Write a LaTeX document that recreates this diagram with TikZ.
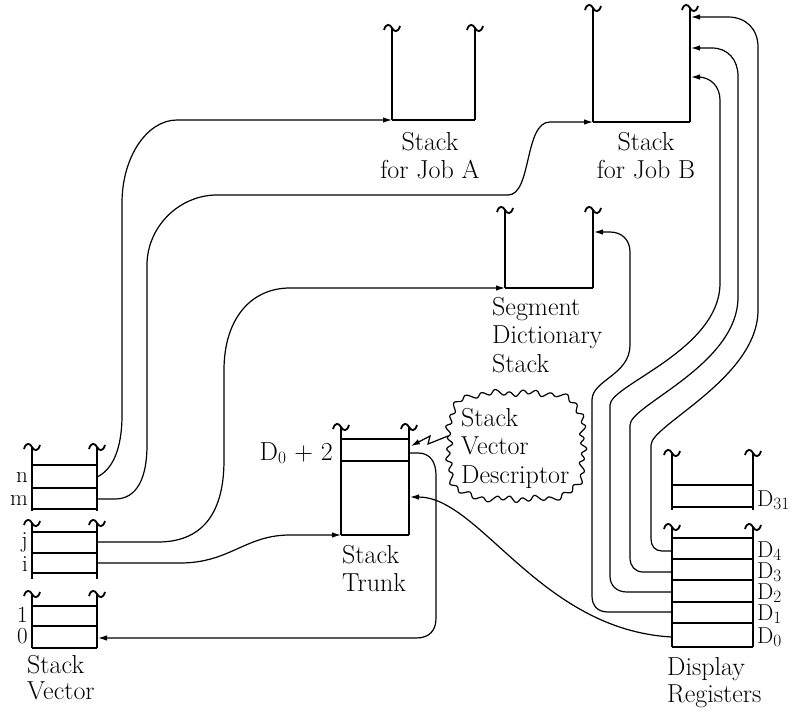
\documentclass[tikz,border=0pt]{standalone}
\usepackage{amsmath}
\usepackage{tikz}
\usetikzlibrary{arrows.meta, positioning}

\tikzset{
  frame/.style={line width=2.2pt},
  link/.style={line width=1.2pt},
  tip/.style={-{Latex[length=9pt,width=5.5pt]}},
  lbl/.style={inner sep=0pt, align=left, font=\fontsize{26}{28.5}\selectfont},
  reglbl/.style={inner sep=0pt, font=\fontsize{23}{24}\selectfont},
  cloudline/.style={line width=1.2pt}
}

% squiggle on top of a post
\newcommand{\tld}[2]{%
  \draw[frame, line width=1.8pt] (#1-8,#2+2) .. controls (#1-6,#2-5) and (#1-2,#2-4) .. (#1,#2)
    .. controls (#1+2,#2+4) and (#1+6,#2+5) .. (#1+8,#2-2);}
% two posts: left x, right x, top y, bottom y
\newcommand{\stk}[4]{%
  \tld{#1}{#3}\tld{#2}{#3}
  \draw[frame] (#1,#3) -- (#1,#4) (#2,#3) -- (#2,#4);}

\begin{document}
\begin{tikzpicture}[x=1pt, y=-1pt]
\useasboundingbox (0,0) rectangle (803,712);

% stack vector
\stk{32}{97}{447}{511}
\stk{32}{97}{523}{579}
\stk{32}{97}{594}{648}
\foreach \y in {465,488,509,532,553,573,606,626,648}
  \draw[frame] (32,\y) -- (97,\y);
\node[reglbl, anchor=base east] (vn) at (28,482) {n};
\node[reglbl, anchor=base east] (vm) at (28,505) {m};
\node[reglbl, anchor=base east] (vj) at (28,547) {j};
\node[reglbl, anchor=base east] (vi) at (28,571) {i};
\node[reglbl, anchor=base east] (v1) at (28,622) {1};
\node[reglbl, anchor=base east] (v0) at (28,643) {0};
\node[lbl, font=\fontsize{26}{26}\selectfont, anchor=north west] (svlbl) at (27,655) {Stack\\Vector};
\coordinate (svn) at (97,477);
\coordinate (svm) at (97,499);
\coordinate (svj) at (97,542);
\coordinate (svi) at (97,563);
\coordinate (sv0) at (98,638);

% stack trunk
\stk{341}{409}{427}{535}
\foreach \y in {439,461,535}
  \draw[frame] (341,\y) -- (409,\y);
\node[lbl, anchor=base east] (dtwo) at (333,460) {D$_0$ + 2};
\node[lbl, anchor=north west] (trlbl) at (342,545) {Stack\\Trunk};
\coordinate (trk0) at (341,535);
\coordinate (trkd) at (409,453);
\coordinate (trkin) at (410,497);
\coordinate (trkv) at (411,446);

% segment dictionary
\stk{505}{593}{210}{288}
\draw[frame] (505,288) -- (593,288);
\node[lbl, anchor=north west] (sdlbl) at (492,297) {Segment\\Dictionary\\Stack};
\coordinate (sd) at (505,288);
\coordinate (sdr) at (594,232);

% job stacks
\stk{392}{475}{28}{120}
\draw[frame] (392,120) -- (475,120);
\node[lbl, align=center, anchor=north] (jalbl) at (430,132) {Stack\\for Job A};
\stk{593}{690}{8}{122}
\draw[frame] (593,122) -- (690,122);
\node[lbl, align=center, anchor=north] (jblbl) at (646,132) {Stack\\for Job B};
\coordinate (jobA) at (392,120);
\coordinate (jobB) at (593,122);
\coordinate (jobB4) at (691,17);
\coordinate (jobB3) at (691,48);
\coordinate (jobB2) at (691,77);

% display registers
\stk{672}{753}{453}{510}
\foreach \y in {485,507}
  \draw[frame] (672,\y) -- (753,\y);
\stk{672}{753}{527}{647}
\foreach \y in {538,559,580,602,623,647}
  \draw[frame] (672,\y) -- (753,\y);
\node[reglbl, anchor=base west] (d31) at (757,506) {D$_{31}$};
\node[reglbl, anchor=base west] (d4) at (757,557) {D$_4$};
\node[reglbl, anchor=base west] (d3) at (757,578) {D$_3$};
\node[reglbl, anchor=base west] (d2) at (757,599) {D$_2$};
\node[reglbl, anchor=base west] (d1) at (757,620) {D$_1$};
\node[reglbl, anchor=base west] (d0) at (757,643) {D$_0$};
\node[lbl, font=\fontsize{26}{27}\selectfont, anchor=north west] (drlbl) at (667,657) {Display\\Registers};
\coordinate (dr0) at (672,637);
\coordinate (dr1) at (672,612);
\coordinate (dr2) at (672,592);
\coordinate (dr3) at (672,572);
\coordinate (dr4) at (672,551);

% descriptor cloud
\node[lbl, anchor=north west] (svd) at (461,408) {Stack\\Vector\\Descriptor};
\draw[cloudline] plot[domain=0:360, samples=500, smooth cycle, variable=\t]
  ({516 + (67*(cos(\t)*cos(\t)*cos(\t)*cos(\t) + sin(\t)*sin(\t)*sin(\t)*sin(\t))^(-0.25)
      + 2.3*sin(33*\t) + 1.4*sin(13*\t+40))*cos(\t)},
   {446 + (53*(cos(\t)*cos(\t)*cos(\t)*cos(\t) + sin(\t)*sin(\t)*sin(\t)*sin(\t))^(-0.25)
      + 2.3*sin(33*\t) + 1.4*sin(13*\t+40))*sin(\t)});
\draw[link, tip] (448,436) -- (428,444) -- (430,436) -- (trkv);

% connectors
\draw[link, tip] (svn) .. controls (112,470) and (122,450) .. (122,415) -- (122,203)
  .. controls (122,157) and (147,120) .. (177,120) -- (jobA);
\draw[link, tip] (svm) -- (115,499) .. controls (137,499) and (147,478) .. (147,445) -- (147,265)
  .. controls (147,227) and (179,195) .. (217,195) -- (508,195)
  .. controls (532,195) and (524,122) .. (550,122) -- (jobB);
\draw[link, tip] (svj) -- (160,542) .. controls (205,541) and (224,510) .. (224,460) -- (224,370)
  .. controls (224,320) and (250,288) .. (290,288) -- (sd);
\draw[link, tip] (svi) -- (180,563) .. controls (230,563) and (245,535) .. (290,535) -- (trk0);
\draw[link, tip] (trkd) -- (418,453) .. controls (430,453) and (436,462) .. (436,475) -- (436,618)
  .. controls (436,630) and (430,638) .. (416,638) -- (sv0);
\draw[link, tip] (dr0) .. controls (540,630) and (480,497) .. (trkin);
\draw[link, tip] (dr1) -- (608,612) .. controls (598,612) and (592,606) .. (592,596) -- (592,400)
  .. controls (592,380) and (630,375) .. (630,345) -- (630,252)
  .. controls (630,240) and (622,232) .. (610,232) -- (sdr);
\draw[link, tip] (dr2) -- (627,592) .. controls (617,592) and (610,586) .. (610,576) -- (610,405)
  .. controls (610,385) and (720,350) .. (720,283) -- (720,100)
  .. controls (720,87) and (711,77) .. (698,77) -- (jobB2);
\draw[link, tip] (dr3) -- (643,572) .. controls (635,572) and (630,566) .. (630,558) -- (630,425)
  .. controls (630,405) and (738,365) .. (738,297) -- (738,76)
  .. controls (738,60) and (728,48) .. (712,48) -- (jobB3);
\draw[link, tip] (dr4) -- (662,551) .. controls (655,551) and (651,546) .. (651,539) -- (651,445)
  .. controls (651,425) and (758,378) .. (758,310) -- (758,47)
  .. controls (758,29) and (746,17) .. (728,17) -- (jobB4);
\end{tikzpicture}
\end{document}
